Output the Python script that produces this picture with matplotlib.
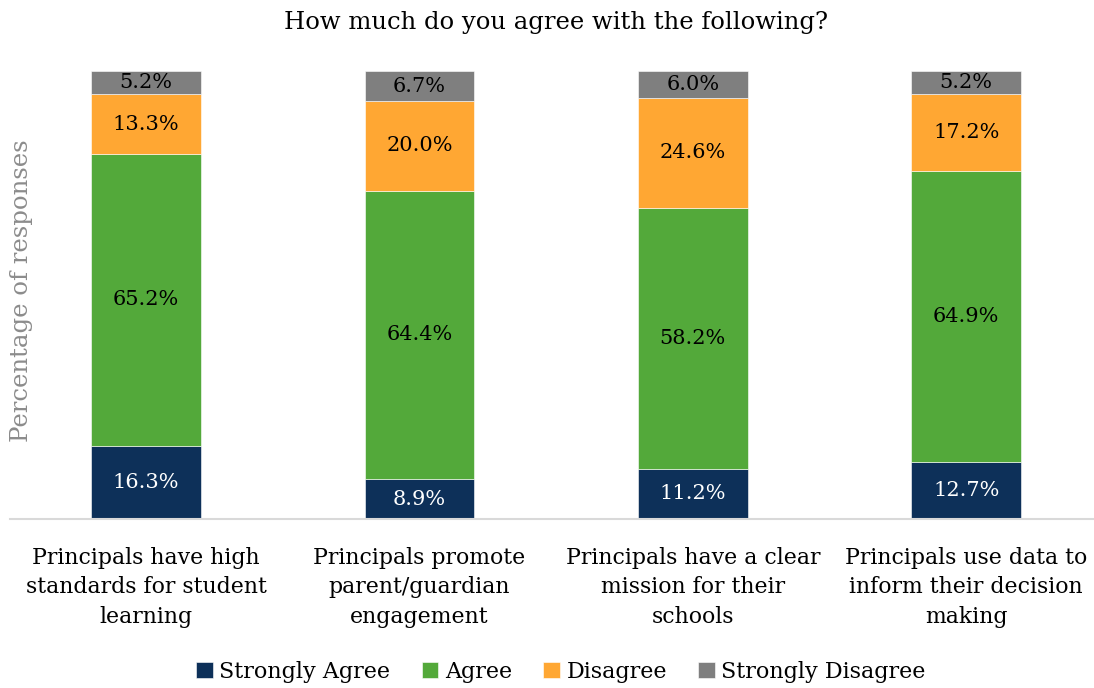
import matplotlib
matplotlib.use("Agg")
import matplotlib.pyplot as plt
import numpy as np

categories = [
    "Principals have high\nstandards for student\nlearning",
    "Principals promote\nparent/guardian\nengagement",
    "Principals have a clear\nmission for their\nschools",
    "Principals use data to\ninform their decision\nmaking",
]
series_names = ["Strongly Agree", "Agree", "Disagree", "Strongly Disagree"]
strongly_agree = [16.3, 8.9, 11.2, 12.7]
agree = [65.2, 64.4, 58.2, 64.9]
disagree = [13.3, 20.0, 24.6, 17.2]
strongly_disagree = [5.2, 6.7, 6.0, 5.2]

colors = ["#0d3059", "#53a93a", "#ffa733", "#7f7f7f"]
label_colors = ["white", "black", "black", "black"]

plt.rcParams["font.family"] = ["DejaVu Serif"]

fig = plt.figure(figsize=(10.94, 6.88), dpi=100)
ax = fig.add_axes([9.5 / 1094, (688 - 519) / 688, 1093.3 / 1094, 448 / 688])

x = np.arange(len(categories))
bottom = np.zeros(len(categories))
handles = []
for vals, name, c, lc in zip(
    [strongly_agree, agree, disagree, strongly_disagree], series_names, colors, label_colors
):
    vals = np.array(vals)
    bars = ax.bar(x, vals, 0.402, bottom=bottom, color=c, edgecolor="white",
                  linewidth=0.4, label=name, zorder=2)
    for xi, b, v in zip(x, bottom, vals):
        ax.text(xi, b + v / 2, f"{v:.1f}%", ha="center", va="center",
                fontsize=15, color=lc, zorder=3)
    bottom += vals
    handles.append(bars)

ax.set_xlim(-0.5, 3.5)
ax.set_ylim(0, 100)
ax.set_yticks([])
ax.set_xticks(x)
ax.set_xticklabels(categories, fontsize=15.8, linespacing=1.45)
ax.tick_params(axis="x", length=0, pad=20)
for s in ["top", "right", "left"]:
    ax.spines[s].set_visible(False)
ax.spines["bottom"].set_color("#d9d9d9")
ax.spines["bottom"].set_linewidth(1.5)

fig.text(22 / 1094, 1 - 291 / 688, "Percentage of responses", rotation=90,
         ha="center", va="center", fontsize=17.6, color="#8c8c8c")
fig.text(556 / 1094, 1 - 23 / 688, "How much do you agree with the following?",
         ha="center", va="center", fontsize=17.5)

fig.legend(handles=handles, labels=series_names, loc="center",
           bbox_to_anchor=(561 / 1094, 1 - 672 / 688), ncol=4, frameon=False,
           fontsize=16, handlelength=0.75, handleheight=0.75, handletextpad=0.3,
           columnspacing=1.4, borderpad=0)

fig.savefig("out.png", dpi=100)
